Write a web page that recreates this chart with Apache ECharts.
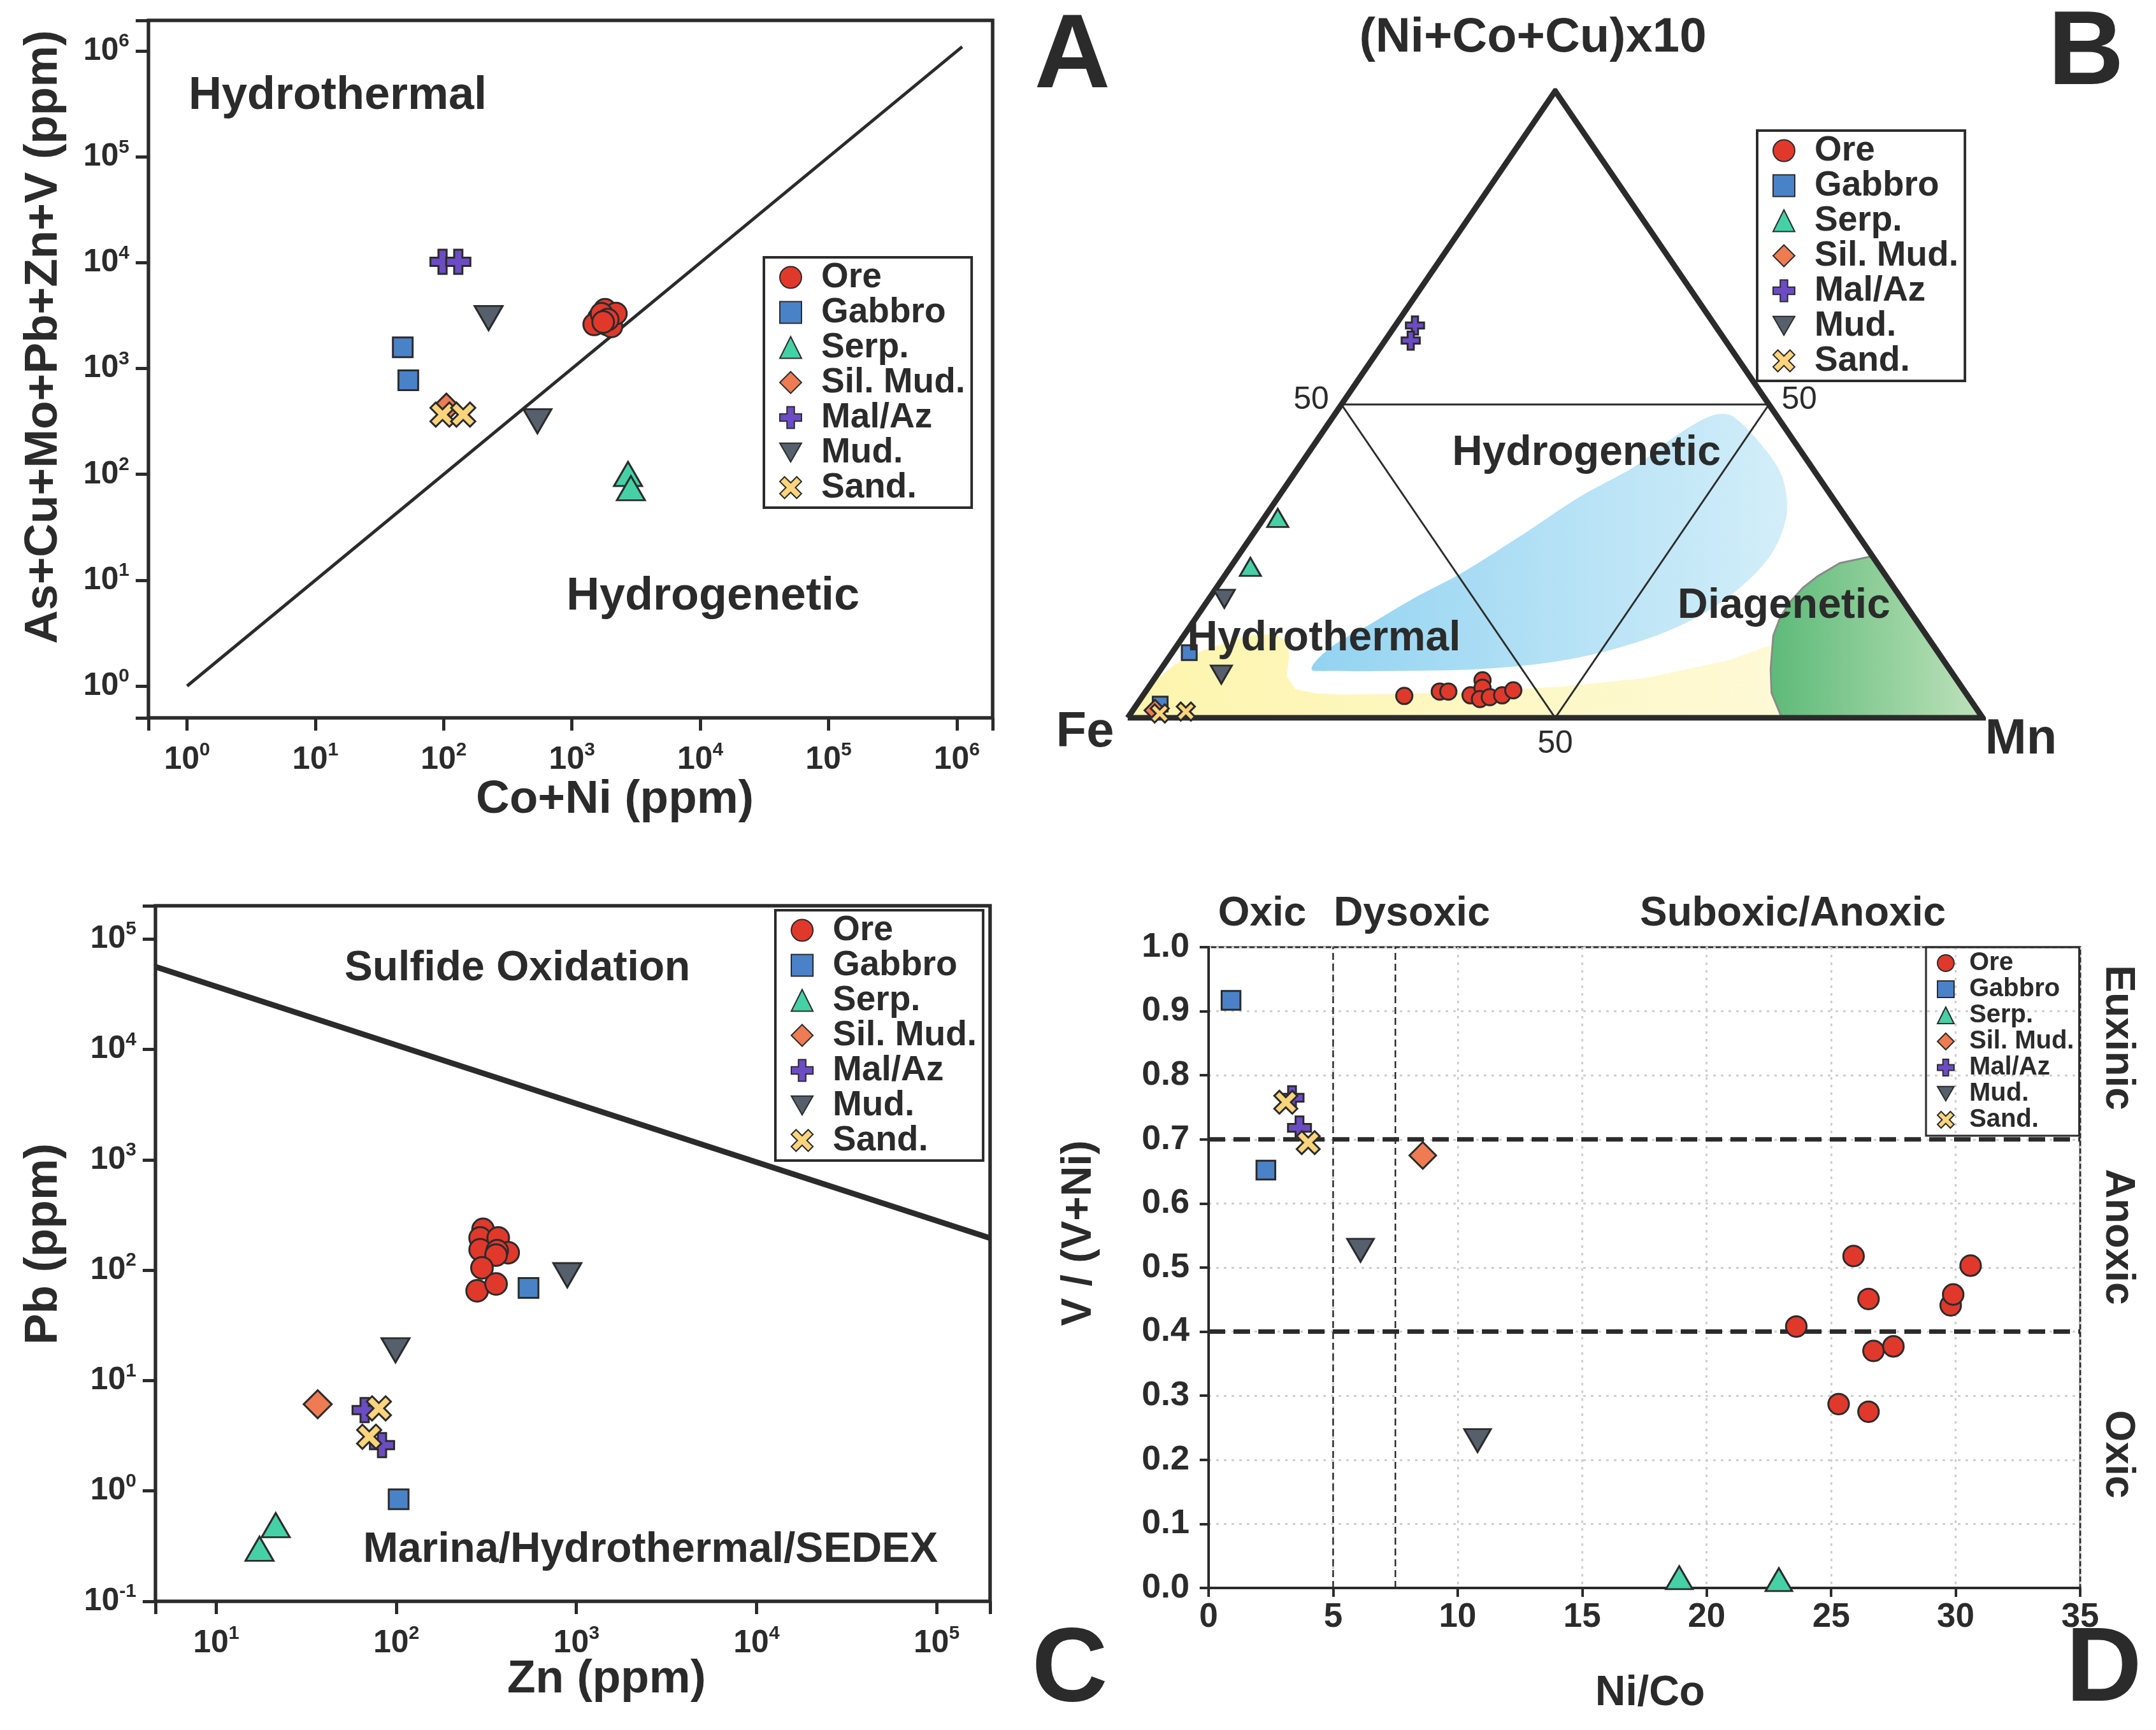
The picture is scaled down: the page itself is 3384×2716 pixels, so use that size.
<!DOCTYPE html>
<html><head><meta charset="utf-8">
<script src="https://cdn.jsdelivr.net/npm/echarts@6/dist/echarts.min.js"></script>
<style>html,body{margin:0;padding:0;background:#fff}#c{width:3384px;height:2716px}</style>
</head><body><div id="c"></div>
<script>
// ---------------- DATA ----------------
const groups = ['Ore', 'Gabbro', 'Serp.', 'Sil. Mud.', 'Mal/Az', 'Mud.', 'Sand.'];

// Panel A: [Co+Ni (ppm), As+Cu+Mo+Pb+Zn+V (ppm)]
const aOre = [[1810,3600],[1620,3000],[2030,3130],[1490,2610],[1880,2610],[2030,2500],[2200,3310],[1700,3300],[1900,2900],[1750,2750]];
const aGabbro = [[48,1590],[53,774]];
const aSerp = [[2735,101],[2880,74]];
const aSilMud = [[105,428]];
const aMalAz = [[98,10200],[130,10200]];
const aMud = [[224,3000],[538,317]];
const aSand = [[98,367],[142,367]];
const aBoundary = [[1,1],[1.1e6,1.1e6]];

// Panel B: ternary [Fe, Mn, (Ni+Co+Cu)x10]
const bOre = [[65.9,30.6,3.5],[61.4,34.4,4.2],[60.4,35.4,4.2],[58.1,38.3,3.6],[55.5,38.5,6.0],[56.1,39.1,4.8],[57.3,39.7,3.0],[56.0,40.7,3.3],[54.4,42.0,3.6],[52.7,42.9,4.4]];
const bGabbro = [[87.6,2.0,10.4],[95.1,2.7,2.2]];
const bSerp = [[66.5,1.6,31.9],[73.6,2.3,24.1]];
const bSilMud = [[96.2,2.6,1.2]];
const bMalAz = [[35.1,2.3,62.6],[36.8,3.0,60.2]];
const bMud = [[79.2,1.8,19.0],[85.6,7.5,6.9]];
const bSand = [[95.9,3.4,0.7],[92.7,6.3,1.0]];
const bTriangle = [[100,0,0],[0,100,0],[0,0,100],[100,0,0]];
const bInner = [[[50,0,50],[0,50,50]],[[50,0,50],[50,50,0]],[[0,50,50],[50,50,0]]];
// field outlines in plot space [x %, height %]
const fieldHydrogenetic = [[21.5,7.8],[23.8,11.3],[28.3,14.9],[33.5,19.1],[39.3,23.3],[45.8,28.9],[52.9,35.3],[59.4,40.2],[63.9,44.8],[67.7,47.9],[69.7,48.5],[71.0,47.9],[73.6,44.4],[76.2,39.5],[77.1,34.9],[76.8,30.7],[74.9,25.4],[71.0,20.1],[65.8,15.5],[59.4,12.0],[51.0,9.2],[41.3,7.8],[31.6,7.5],[23.8,7.5]];
const fieldHydrothermal = [[0,0],[2.6,5.2],[5.5,8.5],[8.9,10.8],[14.2,13.2],[17.2,13.4],[18.6,12.2],[18.9,10],[18.6,6.6],[19.6,4.6],[22,3.9],[25,3.7],[38,4.0],[51,5.0],[60.7,6.4],[70.3,9.2],[76.8,12.4],[83.2,16.6],[89.8,20.4],[100,0]];
const fieldDiagenetic = [[76.5,0],[75.3,4],[75.2,7.8],[75.5,13.1],[76.3,16],[77.4,18.4],[79,20.8],[80.7,22.6],[83.3,24.7],[87.1,25.8],[100,0]];

// Panel C: [Zn (ppm), Pb (ppm)]
const cOre = [[303,234],[292,196],[368,196],[292,153],[418,144],[363,150],[358,137],[299,105],[281,65],[358,75]];
const cGabbro = [[542,69],[103,0.84]];
const cSerp = [[21.4,0.49],[17.4,0.30]];
const cSilMud = [[36.6,6.1]];
const cMalAz = [[66.7,5.4],[83.3,2.6]];
const cMud = [[99,18.8],[890,90]];
const cSand = [[80,5.6],[70.7,3.1]];
const cBoundary = [[4.6,56000],[1.98e5,195]];

// Panel D: [Ni/Co, V/(V+Ni)]
const dOre = [[25.9,0.518],[26.5,0.451],[23.6,0.408],[26.7,0.370],[27.5,0.377],[25.3,0.287],[26.5,0.275],[29.8,0.441],[29.9,0.458],[30.6,0.503]];
const dGabbro = [[0.9,0.917],[2.3,0.652]];
const dSerp = [[18.9,0.016],[22.9,0.013]];
const dSilMud = [[8.6,0.675]];
const dMalAz = [[3.35,0.765],[3.65,0.718]];
const dMud = [[6.1,0.527],[10.8,0.23]];
const dSand = [[3.1,0.758],[4.0,0.695]];
const dLimitsV = [0.7, 0.4];
const dLimitsNiCo = [5, 7.5];

// ---------------- STYLE ----------------
const FONT = "'Liberation Sans', Arial, Helvetica, sans-serif";
const INK = '#2b2b2b';
const PLUS = 'path://M33,0H67V33H100V67H67V100H33V67H0V33H33Z';
const CROSS = 'path://M22,0L50,28L78,0L100,22L72,50L100,78L78,100L50,72L22,100L0,78L28,50L0,22Z';
const DOWN = 'path://M0,0L100,0L50,87Z';
const STYLE = {
  'Ore': {color:'#e0392b', symbol:'circle', size:34},
  'Gabbro': {color:'#4a82c8', symbol:'rect', size:31},
  'Serp.': {color:'#45d1a6', symbol:'triangle', size:[44,38]},
  'Sil. Mud.': {color:'#ef7b52', symbol:'diamond', size:44},
  'Mal/Az': {color:'#6c4cc4', symbol:PLUS, size:38},
  'Mud.': {color:'#55606c', symbol:DOWN, size:[44,38]},
  'Sand.': {color:'#fcd47c', symbol:CROSS, size:38}
};

function tern(p){ const s = p[0]+p[1]+p[2]; const t = p[2]/s*100, m = p[1]/s*100; return [m + t/2, t]; }
function scale(sz, k){ return Array.isArray(sz) ? sz.map(v=>v*k) : sz*k; }
function scatter(name, data, idx, k){
  const st = STYLE[name];
  return {type:'scatter', name, xAxisIndex:idx, yAxisIndex:idx, data,
    symbol:st.symbol, symbolSize:scale(st.size,k), z:5,
    itemStyle:{color:st.color, borderColor:INK, borderWidth:3, opacity:1}};
}
function lineS(data, idx, w, type, z){
  return {type:'line', xAxisIndex:idx, yAxisIndex:idx, data, symbol:'none', silent:true, z:z||3,
    lineStyle:{color:INK, width:w, type:type||'solid', join:'miter', cap:'butt'}};
}
function region(pts, fill, stroke, smooth){
  return {type:'custom', xAxisIndex:1, yAxisIndex:1, data:[[0,0]], silent:true, z:1,
    renderItem:(params, api) => ({type:'polygon', shape:{points:pts.map(p=>api.coord(p)), smooth:smooth||0},
      style:{fill, stroke:stroke||'none', lineWidth:stroke?3:0}})};
}
const grad = (a,b)=> new echarts.graphic.LinearGradient(0,0,1,0,[{offset:0,color:a},{offset:1,color:b}]);

function powLabel(v){ const e = Math.log10(v); const r = Math.round(e); if (Math.abs(e-r) > 1e-6) return ''; return '{b|10}{s|' + r + '}'; }
const powRich = {
  b:{fontSize:50, fontWeight:'bold', fontFamily:FONT, color:INK, lineHeight:60},
  s:{fontSize:30, fontWeight:'bold', fontFamily:FONT, color:INK, verticalAlign:'top', lineHeight:30}
};
function logAxis(idx, min, max, isY){
  return {type:'log', logBase:10, gridIndex:idx, min, max,
    axisLine:{show:false}, splitLine:{show:false}, minorTick:{show:false},
    axisTick:{show:true, inside:false, length:20, lineStyle:{color:INK, width:5}},
    axisLabel:{formatter:powLabel, rich:powRich, margin:isY?30:36}};
}

// legends
function legend(left, top, small){
  const ih = small ? 26 : 34;
  return {orient:'vertical', left, top, data:groups, selectedMode:false,
    itemWidth: ih, itemHeight: ih, itemGap: small?1:0,
    padding: small?[5,8,5,17]:[4,10,4,24],
    borderColor:INK, borderWidth: small?3:4, backgroundColor: small?'transparent':'#fff',
    textStyle:{fontSize: small?40:55, fontWeight:'bold', fontFamily:FONT, color:INK, padding:[0,0,0,small?19:26]}};
}

function txt(text, x, y, size, weight, rot){
  return {type:'text', x, y, rotation:rot||0, z:10,
    style:{text, fontSize:size, fontWeight:weight||'bold', fontFamily:FONT, fill:INK,
      textAlign:'center', textVerticalAlign:'middle', verticalAlign:'middle'}};
}

const series = [];
// A
series.push(lineS(aBoundary, 0, 5));
[aOre,aGabbro,aSerp,aSilMud,aMalAz,aMud,aSand].forEach((d,i)=>series.push(scatter(groups[i], d, 0, 1)));
// B
series.push(region(fieldHydrothermal, grad('#fdf5ad','#fefbe2'), null, 0));
series.push(region(fieldHydrogenetic, grad('#93d3f1','#d3eef9'), null, 0.35));
series.push(region(fieldDiagenetic, grad('#5dba78','#bfe2bb'), '#8a8a8a', 0));
series.push(lineS(bTriangle.map(tern), 1, 9, 'solid', 4));
bInner.forEach(seg => series.push(lineS(seg.map(tern), 1, 3, 'solid', 3)));
[bOre,bGabbro,bSerp,bSilMud,bMalAz,bMud,bSand].forEach((d,i)=>series.push(scatter(groups[i], d.map(tern), 1, 0.75)));
// C
series.push(lineS(cBoundary, 2, 9));
[cOre,cGabbro,cSerp,cSilMud,cMalAz,cMud,cSand].forEach((d,i)=>series.push(scatter(groups[i], d, 2, 1)));
// D
dLimitsV.forEach(v => series.push(lineS([[0,v],[35,v]], 3, 7, [26,13])));
dLimitsNiCo.forEach(v => series.push(lineS([[v,0],[v,1]], 3, 2.5, [11,6])));
[dOre,dGabbro,dSerp,dSilMud,dMalAz,dMud,dSand].forEach((d,i)=>series.push(scatter(groups[i], d, 3, 0.95)));

const option = {
  animation:false,
  backgroundColor:'#fff',
  textStyle:{fontFamily:FONT},
  grid:[
    {left:233, top:32, width:1325, height:1095, show:true, borderColor:INK, borderWidth:5.5, backgroundColor:'transparent'},
    {left:1770, top:143, width:1342, height:984, show:false},
    {left:244, top:1422, width:1310, height:1092, show:true, borderColor:INK, borderWidth:5.5, backgroundColor:'transparent'},
    {left:1897, top:1487, width:1368, height:1006, show:true, borderColor:INK, borderWidth:3, backgroundColor:'transparent'}
  ],
  xAxis:[
    logAxis(0, 0.5, 1.9e6, false),
    {type:'value', gridIndex:1, min:0, max:100, show:false},
    logAxis(2, 4.6, 1.98e5, false),
    {type:'value', gridIndex:3, min:0, max:35, interval:5,
      axisLine:{show:true, lineStyle:{color:INK, width:4}},
      axisTick:{show:true, length:14, lineStyle:{color:INK, width:4}},
      axisLabel:{fontSize:53, fontWeight:'bold', fontFamily:FONT, color:INK, margin:20},
      splitLine:{show:true, lineStyle:{color:'#cfcfcf', width:3, type:[4,8]}}}
  ],
  yAxis:[
    logAxis(0, 0.5, 1.95e6, true),
    {type:'value', gridIndex:1, min:0, max:100, show:false},
    logAxis(2, 0.1, 2e5, true),
    {type:'value', gridIndex:3, min:0, max:1, interval:0.1,
      axisLine:{show:true, lineStyle:{color:INK, width:4}},
      axisTick:{show:true, length:14, lineStyle:{color:INK, width:4}},
      axisLabel:{fontSize:54, fontWeight:'bold', fontFamily:FONT, color:INK, margin:30, formatter:v=>v.toFixed(1)},
      splitLine:{show:true, lineStyle:{color:'#cfcfcf', width:3, type:[4,8]}}}
  ],
  legend:[ legend(1199,404,false), legend(2758,205,false), legend(1217,1429,false), legend(3023,1487,true) ],
  series,
  graphic:[
    txt('A', 1683, 91, 165),
    txt('B', 3274, 86, 165),
    txt('C', 1679, 2624, 165),
    txt('D', 3302, 2624, 165),
    // axis titles
    txt('Co+Ni (ppm)', 965, 1256, 73),
    txt('As+Cu+Mo+Pb+Zn+V (ppm)', 69, 529, 73, 'bold', Math.PI/2),
    txt('Zn (ppm)', 952, 2637, 73),
    txt('Pb (ppm)', 69, 1953, 73, 'bold', Math.PI/2),
    txt('Ni/Co', 2590, 2659, 66),
    txt('V / (V+Ni)', 1694, 1936, 66, 'bold', Math.PI/2),
    // annotations
    {type:'text', x:296, y:151, z:10, style:{text:'Hydrothermal', fontSize:72, fontWeight:'bold', fontFamily:FONT, fill:INK, textAlign:'left', textVerticalAlign:'middle', verticalAlign:'middle'}},
    {type:'text', x:889, y:937, z:10, style:{text:'Hydrogenetic', fontSize:72, fontWeight:'bold', fontFamily:FONT, fill:INK, textAlign:'left', textVerticalAlign:'middle', verticalAlign:'middle'}},
    txt('(Ni+Co+Cu)x10', 2406, 60, 76),
    txt('Fe', 1703, 1150, 78),
    txt('Mn', 3172, 1161, 78),
    txt('50', 2058, 628, 50, 'normal'),
    txt('50', 2824, 628, 50, 'normal'),
    txt('50', 2441, 1168, 50, 'normal'),
    txt('Hydrogenetic', 2490, 712, 66),
    txt('Hydrothermal', 2078, 1003, 66),
    txt('Diagenetic', 2800, 952, 66),
    txt('Sulfide Oxidation', 812, 1521, 66),
    txt('Marina/Hydrothermal/SEDEX', 1021, 2434, 66),
    txt('Oxic', 1981, 1435, 64),
    txt('Dysoxic', 2216, 1435, 64),
    txt('Suboxic/Anoxic', 2814, 1435, 64),
    txt('Euxinic', 3324, 1629, 64, 'bold', -Math.PI/2),
    txt('Anoxic', 3324, 1942, 64, 'bold', -Math.PI/2),
    txt('Oxic', 3324, 2283, 64, 'bold', -Math.PI/2)
  ]
};
const chart = echarts.init(document.getElementById('c'), null, {renderer:'canvas'});
chart.setOption(option);
</script></body></html>
